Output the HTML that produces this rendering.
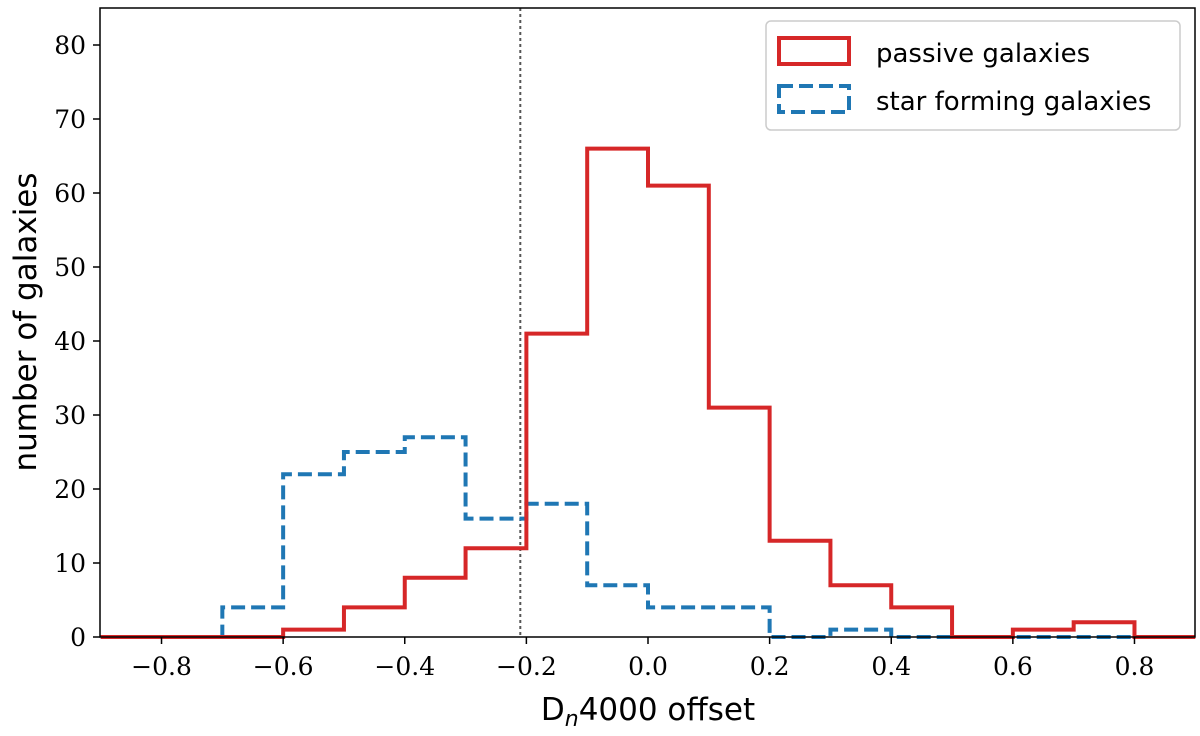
<!DOCTYPE html>
<html><head><meta charset="utf-8"><style>
body{margin:0;background:#fff;}
svg text{font-family:"DejaVu Serif","Liberation Serif",serif;}
svg text.sans{font-family:"DejaVu Sans","Liberation Sans",sans-serif;}
</style></head><body>
<svg id="chart" width="1200" height="731" xmlns="http://www.w3.org/2000/svg">
<g id="marks"></g>
<g id="axes"></g>
<rect x="100" y="8" width="1095" height="629" fill="none" stroke="#000" stroke-width="1.5"/>
<g>
<rect x="766" y="21" width="414" height="109" rx="5" fill="#fff" stroke="#ccc" stroke-width="1.5"/>
<rect x="779" y="38" width="70" height="26" fill="none" stroke="#d62728" stroke-width="4"/>
<text class="sans" x="876" y="62" font-size="26">passive galaxies</text>
<rect x="779" y="86" width="70" height="26" fill="none" stroke="#1f77b4" stroke-width="4" stroke-dasharray="14,6"/>
<text class="sans" x="876" y="110" font-size="26">star forming galaxies</text>
</g>
<text class="sans" x="648" y="720" font-size="31" text-anchor="middle">D<tspan font-style="italic" font-size="22" dy="6">n</tspan><tspan dy="-6">4000 offset</tspan></text>
<text class="sans" transform="translate(36,322) rotate(-90)" font-size="31" text-anchor="middle">number of galaxies</text>
</svg>
<script>
const binEdges=[-0.9,-0.8,-0.7,-0.6,-0.5,-0.4,-0.3,-0.2,-0.1,0,0.1,0.2,0.3,0.4,0.5,0.6,0.7,0.8,0.9];
const passiveCounts=[0,0,0,1,4,8,12,41,66,61,31,13,7,4,0,1,2,0];
const starFormingCounts=[0,0,4,22,25,27,16,18,7,4,4,0,1,0,0,0,0,0];
const xTicks=[-0.8,-0.6,-0.4,-0.2,0,0.2,0.4,0.6,0.8];
const yTicks=[0,10,20,30,40,50,60,70,80];
const cutValue=-0.21;
const X=v=>648+v*608.1, Y=v=>637-v*7.4;
const NS="http://www.w3.org/2000/svg";
const marks=document.getElementById('marks'), axes=document.getElementById('axes');
function stepPath(c){let d=`M${X(binEdges[0])},${Y(0)}`;c.forEach((v,i)=>{d+=` L${X(binEdges[i])},${Y(v)} L${X(binEdges[i+1])},${Y(v)}`;});return d+` L${X(binEdges[binEdges.length-1])},${Y(0)}`;}
let cl=document.createElementNS(NS,'line');


cl.setAttribute('x1',X(cutValue));cl.setAttribute('x2',X(cutValue));cl.setAttribute('y1',8);cl.setAttribute('y2',637);
cl.setAttribute('stroke','#555');cl.setAttribute('stroke-width','2');cl.setAttribute('stroke-dasharray','3,3');marks.appendChild(cl);
let sf=document.createElementNS(NS,'path');


sf.setAttribute('d',stepPath(starFormingCounts));sf.setAttribute('fill','none');sf.setAttribute('stroke','#1f77b4');sf.setAttribute('stroke-width','4');sf.setAttribute('stroke-dasharray','14,6');marks.appendChild(sf);
let ps=document.createElementNS(NS,'path');


ps.setAttribute('d',stepPath(passiveCounts));ps.setAttribute('fill','none');ps.setAttribute('stroke','#d62728');ps.setAttribute('stroke-width','4');marks.appendChild(ps);
xTicks.forEach(t=>{
 let l=document.createElementNS(NS,'line');
 
 
 l.setAttribute('x1',X(t));l.setAttribute('x2',X(t));l.setAttribute('y1',637);l.setAttribute('y2',644);l.setAttribute('stroke','#000');l.setAttribute('stroke-width','1.5');axes.appendChild(l);
 let tx=document.createElementNS(NS,'text');
 
 
 tx.setAttribute('x',X(t));tx.setAttribute('y',675);tx.setAttribute('font-size','25');tx.setAttribute('text-anchor','middle');
 tx.textContent=(t<0?'\u2212':'')+Math.abs(t).toFixed(1);axes.appendChild(tx);
});
yTicks.forEach(t=>{
 let l=document.createElementNS(NS,'line');
 
 
 l.setAttribute('x1',93);l.setAttribute('x2',100);l.setAttribute('y1',Y(t));l.setAttribute('y2',Y(t));l.setAttribute('stroke','#000');l.setAttribute('stroke-width','1.5');axes.appendChild(l);
 let tx=document.createElementNS(NS,'text');
 
 
 tx.setAttribute('x',86);tx.setAttribute('y',Y(t)+9);tx.setAttribute('font-size','25');tx.setAttribute('text-anchor','end');
 tx.textContent=t;axes.appendChild(tx);
});
</script>
</body></html>
